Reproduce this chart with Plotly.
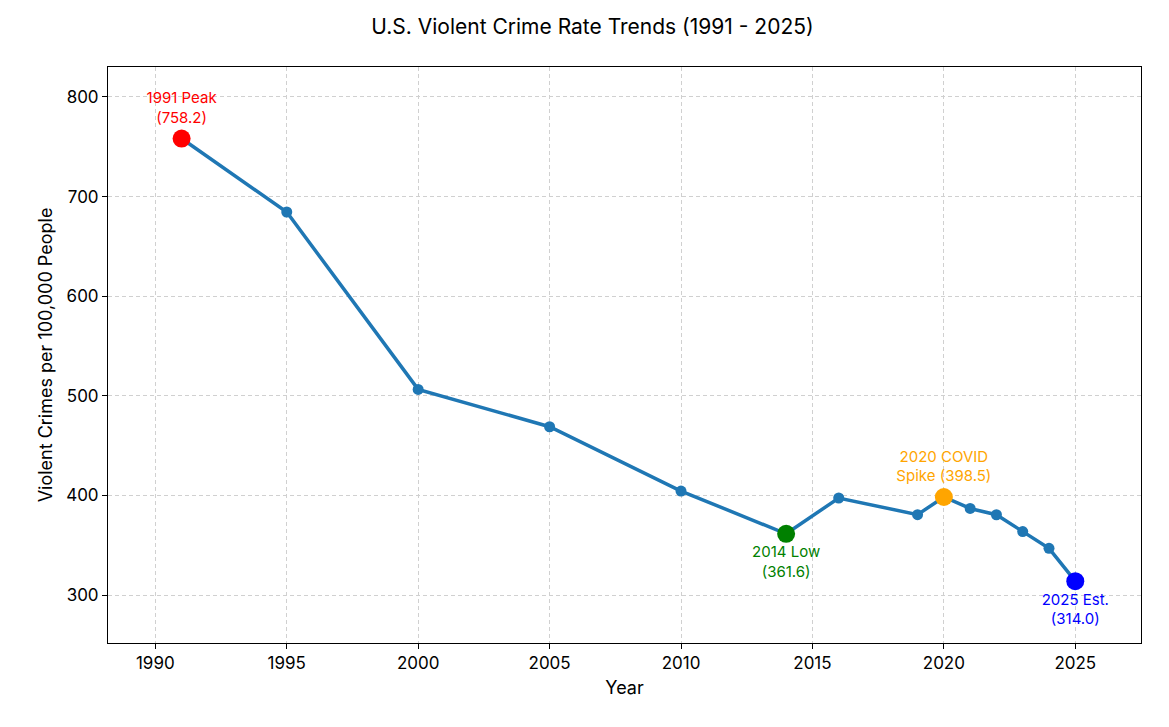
import plotly.graph_objects as go

years = [1991, 1995, 2000, 2005, 2010, 2014, 2016, 2019, 2020, 2021, 2022, 2023, 2024, 2025]
rates = [758.2, 684.5, 506.5, 469.0, 404.5, 361.6, 397.5, 380.8, 398.5, 387.0, 380.7, 363.8, 347.0, 314.0]

hl_years = [1991, 2014, 2020, 2025]
hl_rates = [758.2, 361.6, 398.5, 314.0]
hl_colors = ["red", "green", "orange", "blue"]
hl_labels = ["1991 Peak<br>(758.2)", "2014 Low<br>(361.6)", "2020 COVID<br>Spike (398.5)", "2025 Est.<br>(314.0)"]
hl_pos = ["top center", "bottom center", "top center", "bottom center"]

fig = go.Figure()
fig.add_trace(go.Scatter(
    x=years, y=rates, mode="lines+markers",
    line=dict(color="#1f77b4", width=3.5),
    marker=dict(size=11, color="#1f77b4"),
    showlegend=False,
))
for x, y, c, t, p in zip(hl_years, hl_rates, hl_colors, hl_labels, hl_pos):
    fig.add_trace(go.Scatter(
        x=[x], y=[y], mode="markers+text",
        marker=dict(size=18, color=c),
        text=[t], textposition=p,
        textfont=dict(color=c, size=15),
        showlegend=False,
    ))

axis = dict(
    showline=True, mirror=True, linecolor="black", linewidth=1,
    showgrid=True, gridcolor="#d0d0d0", griddash="4px,3px", gridwidth=1,
    ticks="outside", ticklen=5, tickcolor="black", zeroline=False,
    tickfont=dict(size=17, color="black"),
)
fig.update_xaxes(axis, range=[1988.2, 2027.5], dtick=5, tick0=1990,
                 title=dict(text="Year", font=dict(size=18, color="black"), standoff=8))
fig.update_yaxes(axis, range=[252, 830], dtick=100,
                 title=dict(text="Violent Crimes per 100,000 People", font=dict(size=18, color="black"), standoff=8))

fig.update_layout(
    title=dict(text="U.S. Violent Crime Rate Trends (1991 - 2025)", x=0.5, y=0.985,
               font=dict(size=21, color="black")),
    font=dict(family="Inter, Open Sans, sans-serif"),
    plot_bgcolor="white", paper_bgcolor="white",
    width=1169, height=727,
    margin=dict(l=100, r=36, t=59, b=92),
)

fig.write_html("out.html")
